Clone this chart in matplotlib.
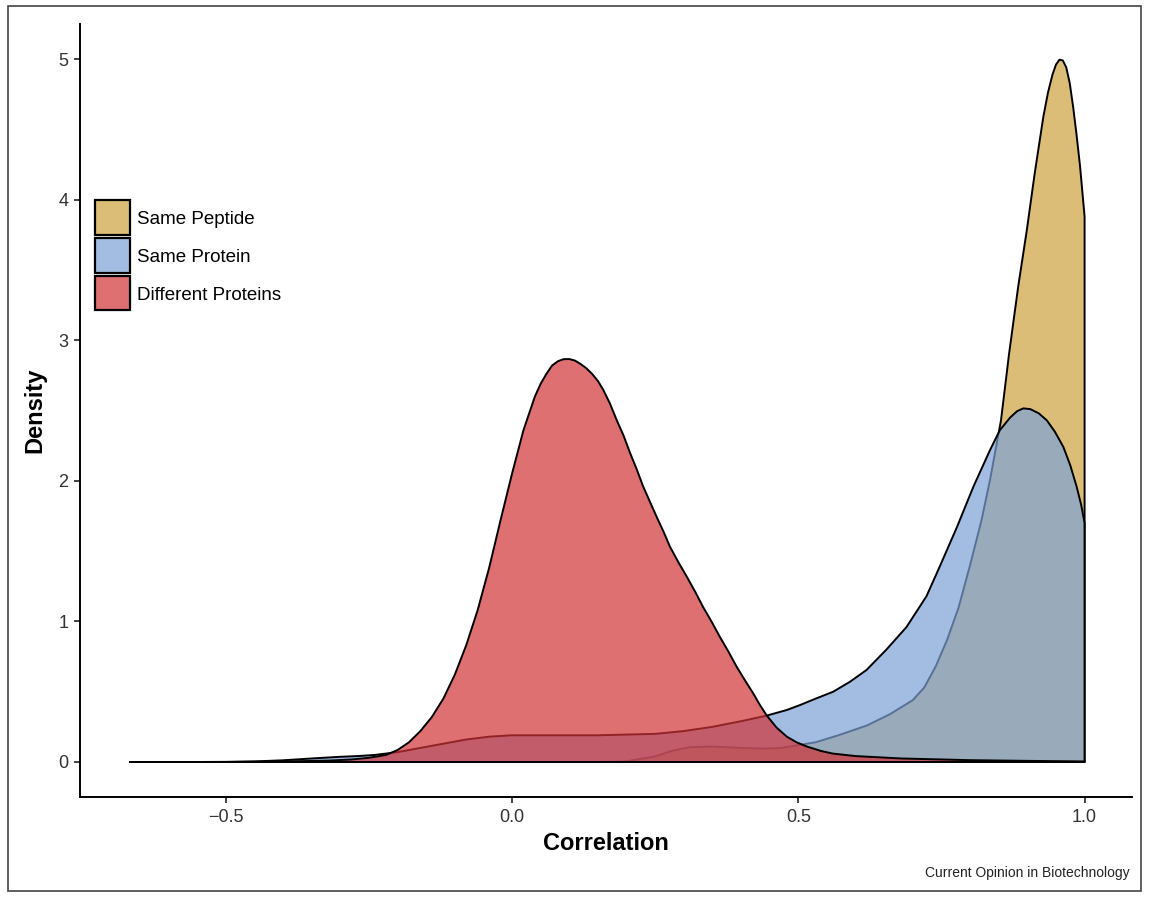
import matplotlib
matplotlib.use("Agg")
import matplotlib.pyplot as plt
from matplotlib.patches import Rectangle

plt.rcParams['font.family'] = ['Liberation Sans', 'DejaVu Sans']

# ---- data ----
series_names = ["Same Peptide", "Same Protein", "Different Proteins"]

peptide_x = [0.15, 0.20, 0.25, 0.28, 0.31, 0.35, 0.40, 0.44, 0.47, 0.50, 0.53, 0.57,
             0.62, 0.66, 0.70, 0.72, 0.74, 0.76, 0.78, 0.80, 0.82, 0.835, 0.854,
             0.868, 0.884, 0.899, 0.913, 0.928, 0.936, 0.944, 0.95, 0.956, 0.962,
             0.968, 0.974, 0.98, 0.986, 0.992, 0.996, 1.0]
peptide_y = [0.0, 0.005, 0.04, 0.08, 0.105, 0.11, 0.10, 0.095, 0.10, 0.12, 0.14, 0.19,
             0.26, 0.34, 0.44, 0.53, 0.68, 0.87, 1.10, 1.40, 1.72, 2.01, 2.43,
             2.90, 3.38, 3.78, 4.19, 4.59, 4.76, 4.89, 4.96, 4.995, 4.99,
             4.94, 4.83, 4.66, 4.46, 4.24, 4.06, 3.88]

protein_x = [-0.50, -0.45, -0.40, -0.35, -0.30, -0.27, -0.24, -0.20, -0.16, -0.12,
             -0.08, -0.04, 0.00, 0.05, 0.10, 0.15, 0.20, 0.25, 0.30, 0.35, 0.40,
             0.445, 0.48, 0.503, 0.53, 0.561, 0.59, 0.619, 0.654, 0.689, 0.724,
             0.747, 0.777, 0.806, 0.835, 0.852, 0.87, 0.882, 0.893, 0.905, 0.92,
             0.934, 0.948, 0.963, 0.975, 0.986, 0.994, 1.0]
protein_y = [0.0, 0.004, 0.012, 0.025, 0.037, 0.042, 0.05, 0.07, 0.10, 0.13,
             0.16, 0.18, 0.19, 0.19, 0.19, 0.19, 0.195, 0.20, 0.22, 0.25, 0.29,
             0.33, 0.37, 0.405, 0.45, 0.50, 0.57, 0.654, 0.80, 0.96, 1.18,
             1.39, 1.67, 1.96, 2.22, 2.36, 2.45, 2.495, 2.515, 2.51, 2.48,
             2.43, 2.35, 2.24, 2.11, 1.96, 1.83, 1.70]

different_x = [-0.667, -0.55, -0.45, -0.38, -0.32, -0.28, -0.25, -0.22, -0.20, -0.18,
               -0.16, -0.14, -0.12, -0.10, -0.08, -0.06, -0.04, -0.02, 0.00, 0.02,
               0.04, 0.05, 0.06, 0.07, 0.08, 0.09, 0.10, 0.11, 0.12, 0.13, 0.14,
               0.15, 0.159, 0.171, 0.183, 0.195, 0.206, 0.218, 0.229, 0.241,
               0.253, 0.265, 0.276, 0.29, 0.305, 0.32, 0.334, 0.349, 0.363, 0.378,
               0.392, 0.407, 0.421, 0.433, 0.445, 0.462, 0.48, 0.497, 0.515,
               0.54, 0.56, 0.60, 0.68, 0.80, 0.90, 1.00]
different_y = [0.0, 0.0, 0.002, 0.005, 0.01, 0.018, 0.03, 0.05, 0.085, 0.14,
               0.22, 0.32, 0.45, 0.62, 0.83, 1.08, 1.38, 1.72, 2.05, 2.36,
               2.60, 2.69, 2.76, 2.82, 2.85, 2.865, 2.866, 2.855, 2.83, 2.80, 2.76,
               2.71, 2.65, 2.55, 2.43, 2.32, 2.20, 2.08, 1.96, 1.85,
               1.74, 1.635, 1.53, 1.425, 1.32, 1.21, 1.10, 0.995, 0.89, 0.785,
               0.68, 0.58, 0.49, 0.405, 0.33, 0.245, 0.18, 0.14, 0.11,
               0.078, 0.06, 0.042, 0.025, 0.013, 0.008, 0.004]

x_ticks = [-0.5, 0.0, 0.5, 1.0]
x_tick_labels = ["\u22120.5", "0.0", "0.5", "1.0"]
y_ticks = [0, 1, 2, 3, 4, 5]

colors = [(206/255, 161/255, 62/255), (125/255, 162/255, 215/255), (208/255, 51/255, 55/255)]
fill_alpha = 0.7

# ---- figure ----
W, H = 1149, 897
fig = plt.figure(figsize=(W/100, H/100), dpi=100)
fig.patch.set_facecolor('white')

ax_l, ax_r, ax_t, ax_b = 80, 1132, 24, 797
ax = fig.add_axes([ax_l/W, 1-ax_b/H, (ax_r-ax_l)/W, (ax_b-ax_t)/H])

all_x = [peptide_x, protein_x, different_x]
all_y = [peptide_y, protein_y, different_y]
for i, (xs, ys, c) in enumerate(zip(all_x, all_y, colors)):
    px = [xs[0]] + list(xs) + [xs[-1]]
    py = [0.0] + list(ys) + [0.0]
    ax.fill(px, py, facecolor=(c[0], c[1], c[2], fill_alpha), edgecolor='black',
            linewidth=1.4, joinstyle='round', zorder=2+i)

ax.set_xlim(-0.7545, 1.0828)
ax.set_ylim(-0.249, 5.249)

for s in ['top', 'right']:
    ax.spines[s].set_visible(False)
for s in ['left', 'bottom']:
    ax.spines[s].set_linewidth(1.4)
    ax.spines[s].set_color('black')

ax.set_xticks(x_ticks)
ax.set_xticklabels(x_tick_labels)
ax.set_yticks(y_ticks)
ax.tick_params(axis='both', labelsize=13, length=4.5, width=1.3, color='#333333',
               labelcolor='#333333', pad=4)

ax.set_xlabel('Correlation', fontsize=17, fontweight='bold', va='center')
ax.xaxis.set_label_coords(0.5, (ax_b-843)/(ax_b-ax_t))
ax.set_ylabel('Density', fontsize=17, fontweight='bold', va='center')
ax.yaxis.set_label_coords((35-ax_l)/(ax_r-ax_l), 0.5)

# ---- legend (drawn as patches + text in figure pixels) ----
box_left, box_size, first_top, row_pitch = 95, 34.5, 200.5, 37.7
for k, (name, c) in enumerate(zip(series_names, colors)):
    top = first_top + k * row_pitch
    fig.patches.append(Rectangle((box_left/W, 1-(top+box_size)/H), box_size/W, box_size/H,
                                 transform=fig.transFigure,
                                 facecolor=(c[0], c[1], c[2], fill_alpha),
                                 edgecolor='black', linewidth=1.6))
    fig.text(137/W, 1-(top+box_size/2)/H, name, ha='left', va='center_baseline',
             fontsize=13.5, color='black')

fig.text(1130/W, 1-873/H, 'Current Opinion in Biotechnology', ha='right', va='center',
         fontsize=10, color='#222222')

fig.patches.append(Rectangle((8/W, 1-891/H), (1141-8)/W, (891-6)/H, transform=fig.transFigure,
                             fill=False, edgecolor='#444444', linewidth=1.2))

fig.savefig('out.png', dpi=100, facecolor='white')
